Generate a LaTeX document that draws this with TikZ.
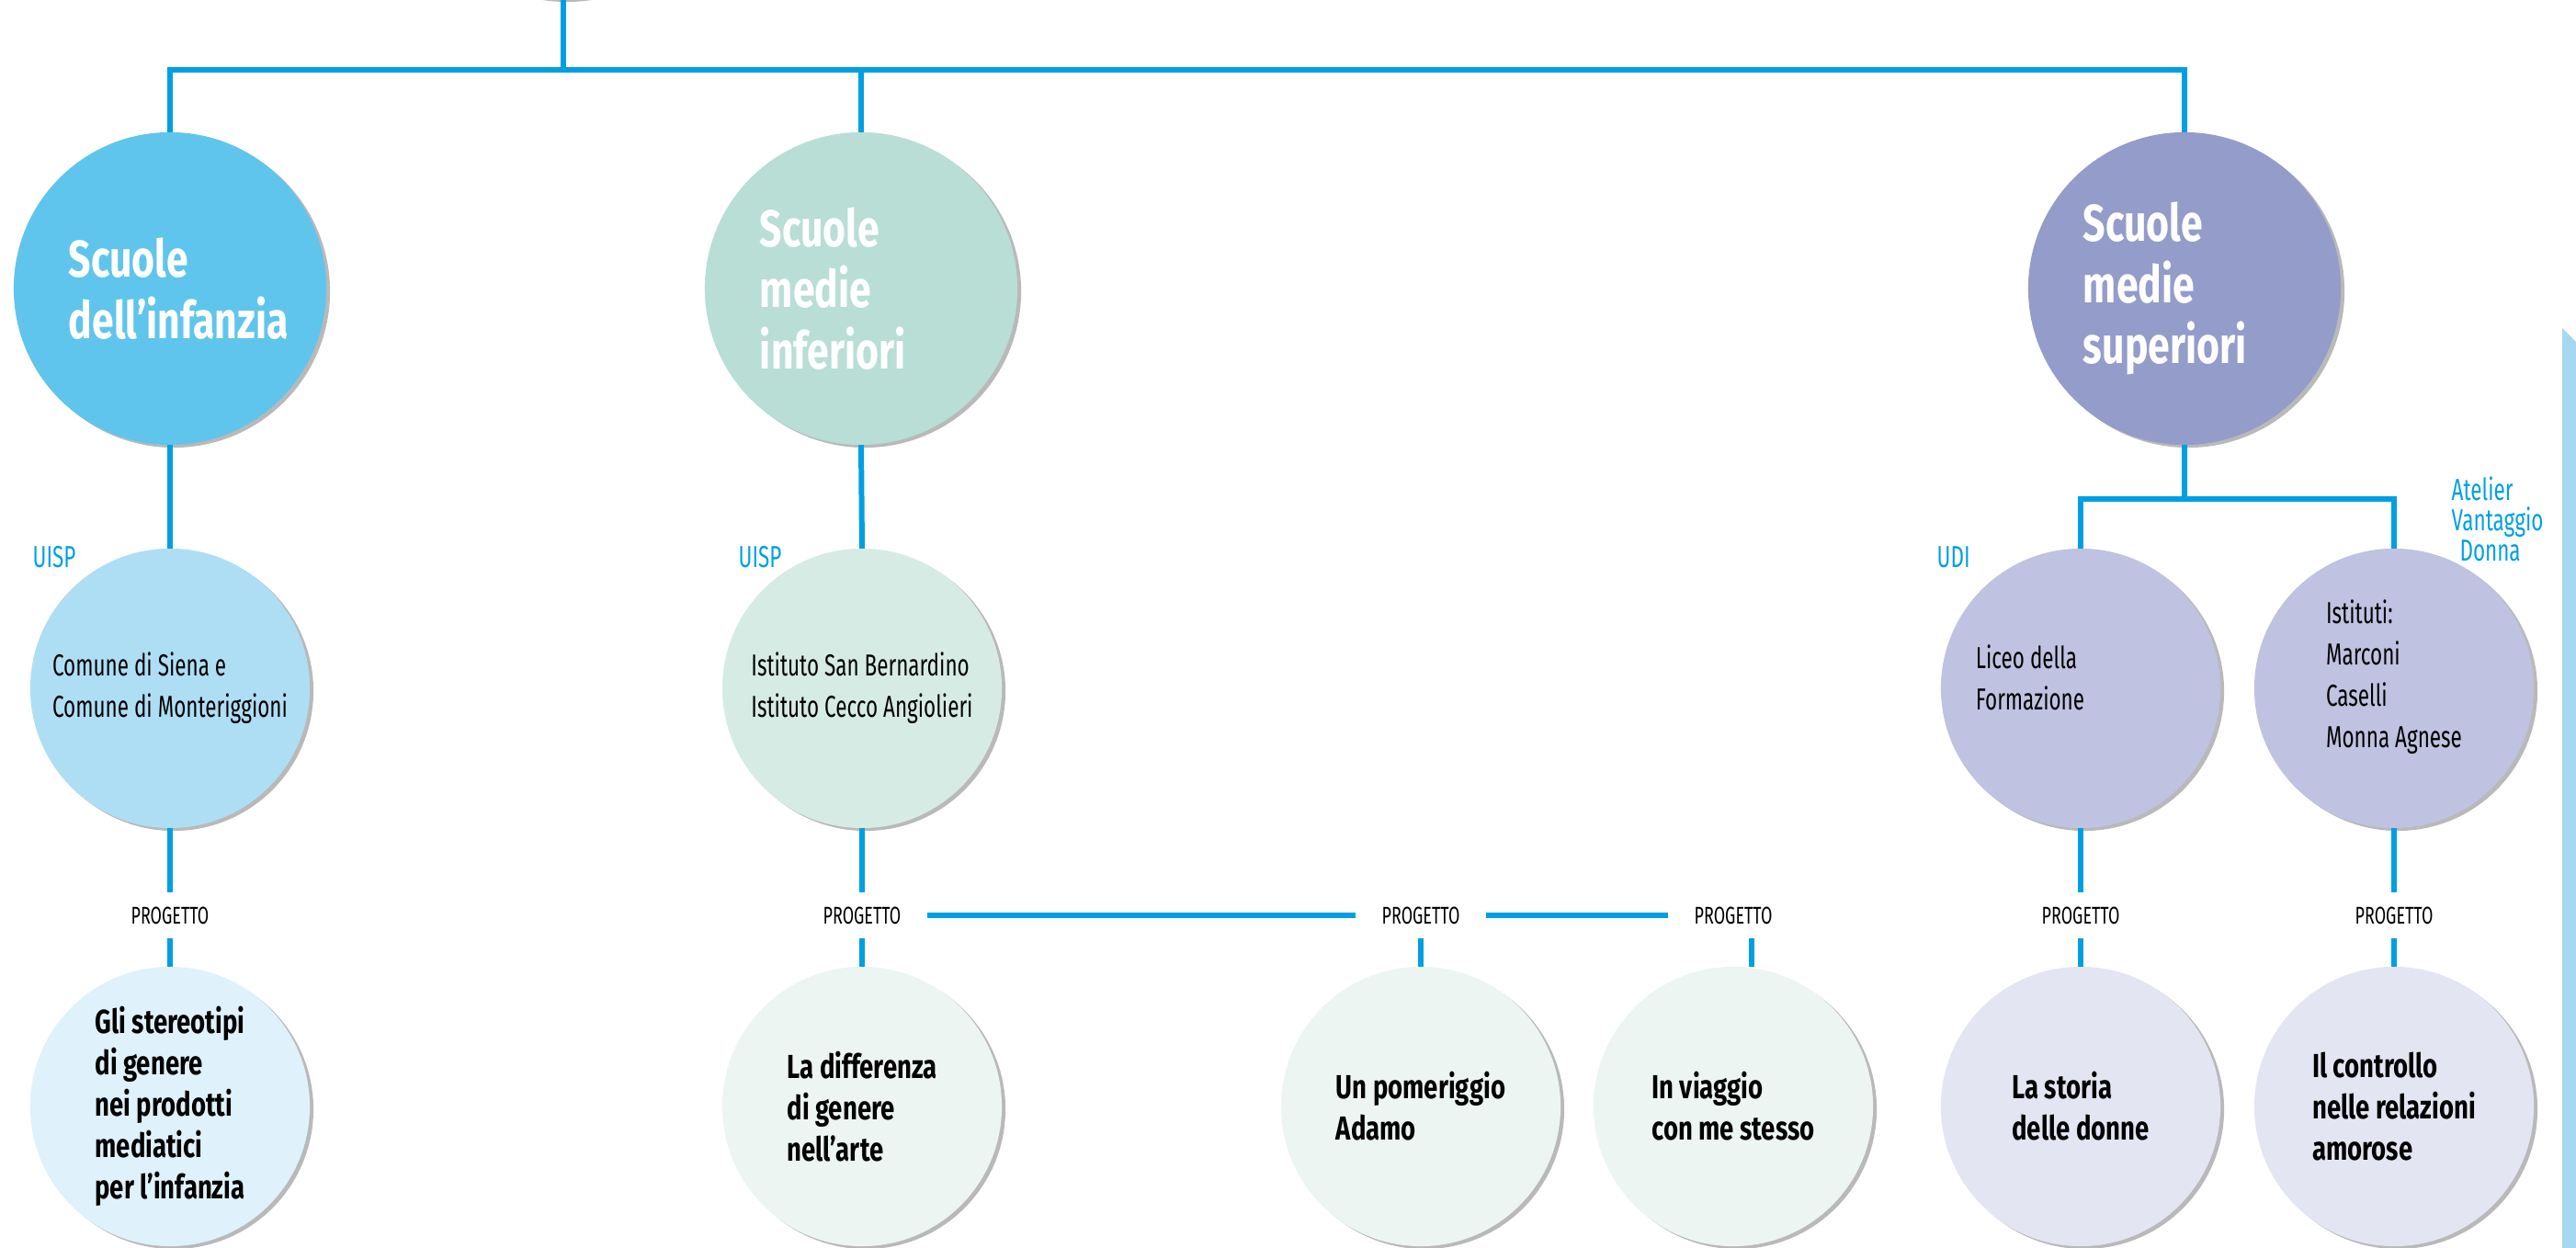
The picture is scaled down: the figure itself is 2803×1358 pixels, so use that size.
\documentclass[tikz,border=0pt]{standalone}
\usepackage{fontspec}
\setmainfont{Fira Sans}[UprightFeatures={FakeStretch=0.68}, BoldFeatures={FakeStretch=0.76}]
\usetikzlibrary{shadows}
\hyphenpenalty=10000

\definecolor{linkblue}{HTML}{009FE3}
\definecolor{barblue}{HTML}{A6D8F2}
\definecolor{infcol}{HTML}{5FC5EC}
\definecolor{infmid}{HTML}{AEDEF4}
\definecolor{inflow}{HTML}{DFF1FB}
\definecolor{infecol}{HTML}{B8DED6}
\definecolor{infemid}{HTML}{D7EBE5}
\definecolor{infelow}{HTML}{EDF5F3}
\definecolor{supcol}{HTML}{949CCA}
\definecolor{supmid}{HTML}{BFC2E0}
\definecolor{suplow}{HTML}{E4E5F2}

\tikzset{
  link/.style={draw=linkblue, line width=1.7pt},
  ball/.style={circle, inner sep=0pt, outer sep=0pt, align=left,
    drop shadow={shadow xshift=0.04cm, shadow yshift=-0.03cm, opacity=0.55}},
  bigball/.style={ball, minimum size=3.4cm, text=white, text width=2.2cm,
    font=\bfseries\fontsize{16}{19}\selectfont},
  midtext/.style={align=left, font=\fontsize{9.4}{12.8}\selectfont},
  midball/.style={ball, minimum size=3.04cm, midtext},
  sidetext/.style={midtext, inner sep=0pt, yshift=0.12cm},
  lowball/.style={ball, minimum size=3.04cm,
    font=\bfseries\fontsize{10.3}{12.8}\selectfont},
  tag/.style={text=linkblue, inner sep=0pt, align=left,
    font=\fontsize{9.4}{9.4}\selectfont},
  proj/.style={font=\fontsize{7.5}{8}\selectfont, inner xsep=0.28cm, inner ysep=0.15cm,
    text height=0.18cm, text depth=0pt}
}

\begin{document}
\begin{tikzpicture}[x=0.01cm, y=-0.01cm]
    \useasboundingbox (0,0) rectangle (2803,1358);

    % side bar
    \fill[barblue] (2788,357) -- (2803,372) -- (2803,1358) -- (2788,1358) -- cycle;

    % top level
    \node[ball, fill=white, minimum size=3.4cm] (root) at (613,-171) {};
    \coordinate (hub) at (613,76);
    \node[bigball, fill=infcol] (c1) at (185,314) {Scuole\\dell’infanzia};
    \node[bigball, fill=infecol] (c2) at (937,314) {Scuole\\medie\\inferiori};
    \node[bigball, fill=supcol] (c3) at (2377,314) {Scuole\\medie\\superiori};

    % schools
    \node[midball, fill=infmid] (m1) at (185,749) {Comune di Siena e\\Comune di Monteriggioni};
    \node[midball, fill=infemid] (m2) at (938,749) {Istituto San Bernardino\\Istituto Cecco Angiolieri};
    \node[midball, fill=supmid, label={[sidetext, xshift=-0.55cm]center:Liceo della\\Formazione}] (m3) at (2264,749) {};
    \node[midball, fill=supmid, label={[sidetext]center:Istituti:\\Marconi\\Caselli\\Monna Agnese}] (m4) at (2605,749) {};
    \coordinate (fork) at (2377,543);

    \node[tag, anchor=base west] (uisp1) at (35,617) {UISP};
    \node[tag, anchor=base west] (uisp2) at (803,617) {UISP};
    \node[tag, anchor=base west] (udi) at (2107,617) {UDI};
    \node[tag, anchor=north west] (atelier) at (2667,518) {Atelier\\Vantaggio\\\hspace{2.5pt}Donna};

    % projects
    \node[proj] (p1) at (185,996) {PROGETTO};
    \node[proj] (p2) at (938,996) {PROGETTO};
    \node[proj] (p3) at (1546,996) {PROGETTO};
    \node[proj] (p4) at (1886,996) {PROGETTO};
    \node[proj] (p5) at (2264,996) {PROGETTO};
    \node[proj] (p6) at (2605,996) {PROGETTO};

    \node[lowball, fill=inflow] (b1) at (185,1204) {Gli stereotipi\\di genere\\nei prodotti\\mediatici\\per l’infanzia};
    \node[lowball, fill=infelow] (b2) at (938,1204) {La differenza\\di genere\\nell’arte};
    \node[lowball, fill=infelow] (b3) at (1546,1204) {Un pomeriggio\\Adamo};
    \node[lowball, fill=infelow] (b4) at (1886,1204) {In viaggio\\con me stesso};
    \node[lowball, fill=suplow] (b5) at (2264,1204) {La storia\\delle donne};
    \node[lowball, fill=suplow] (b6) at (2605,1204) {Il controllo\\nelle relazioni\\amorose};

    % connectors
    \draw[link] (root.south) -- (hub);
    \draw[link] (c1.north) -- (c1.north |- hub) -- (c3.north |- hub) -- (c3.north);
    \draw[link] (c2.north) -- (c2.north |- hub);
    \foreach \a/\b in {c1/m1, m1/p1, p1/b1, c2/m2, m2/p2, p2/b2, p3/b3, m3/p5, p5/b5, m4/p6, p6/b6}
        \draw[link] (\a.south) -- (\b.north);
    \draw[link] (p2.east) -- (p3.west);
    \draw[link] (p3.east) -- (p4.west);
    \draw[link] ([xshift=0.2cm]p4.south) -- ([xshift=0.2cm]p4.south |- b4.north);
    \draw[link] (c3.south) -- (fork);
    \draw[link] (m3.north) |- (fork) -| (m4.north);
\end{tikzpicture}
\end{document}
